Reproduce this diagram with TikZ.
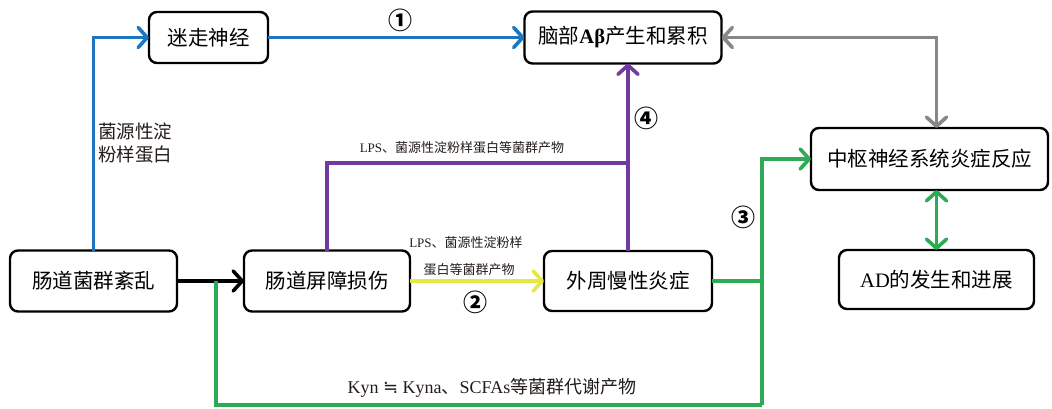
\documentclass[tikz,border=0pt]{standalone}
\usepackage{fontspec}
\setmainfont{Liberation Serif}
\newfontfamily\cjk{Noto Sans CJK SC}
\newfontfamily\symf{DejaVu Sans}
\usetikzlibrary{arrows.meta}
\definecolor{cblue}{RGB}{30,118,190}
\definecolor{cpurple}{RGB}{112,58,160}
\definecolor{cyellow}{RGB}{230,232,70}
\definecolor{cgreen}{RGB}{44,170,84}
\definecolor{cgray}{RGB}{135,135,135}
\definecolor{ctext}{RGB}{35,28,25}
\tikzset{
  box/.style={draw, line width=2.4pt, rounded corners=8pt, inner sep=0pt, outer sep=0pt, fill=white, font=\fontsize{20.5}{24}\selectfont},
  conn/.style={line width=3.6pt, line cap=butt},
  tip/.style={-{Straight Barb[length=9pt,width=20pt,round]}},
  tips/.style={{Straight Barb[length=9pt,width=20pt,round]}-{Straight Barb[length=9pt,width=20pt,round]}},
  lbl/.style={text=ctext, inner sep=0pt},
  num/.style={inner sep=0pt, font=\cjk\bfseries\fontsize{24}{25}\selectfont}
}
\begin{document}
\begin{tikzpicture}[x=1pt,y=-1pt]
\useasboundingbox (0,0) rectangle (1052,409);
% nodes
\node[box, minimum width=167pt, minimum height=61pt] (gut) at (93.5,281) {\cjk 肠道菌群紊乱};
\node[box, minimum width=166pt, minimum height=61pt] (bar) at (327,281) {\cjk 肠道屏障损伤};
\node[box, minimum width=168pt, minimum height=60pt] (per) at (628,281) {\cjk 外周慢性炎症};
\node[box, minimum width=119pt, minimum height=51pt] (vag) at (208.5,37.5) {\cjk 迷走神经};
\node[box, minimum width=197pt, minimum height=52pt] (brain) at (623,37.5) {{\cjk 脑部}\textbf{Aβ}{\cjk 产生和累积}};
\node[box, minimum width=237pt, minimum height=62pt] (cns) at (929.5,159) {\cjk 中枢神经系统炎症反应};
\node[box, minimum width=195pt, minimum height=59pt] (ad) at (936.5,279.5) {AD{\cjk 的发生和进展}};
% coordinates
\coordinate (gsplit) at (216,281);
\coordinate (gcorner) at (762,405);
\coordinate (pjoin) at (628,163);
% connectors
\draw[conn, cblue, tip] (gut.north) |- (vag.west);
\draw[conn, cblue, tip] (vag.east) -- (brain.west);
\draw[conn, black, tip] (gut.east) -- (bar.west);
\draw[conn, cyellow, tip] (bar.east) -- (per.west);
\draw[conn, cpurple] (bar.north) |- (pjoin);
\draw[conn, cpurple, tip] (per.north) -- (per.north |- brain.south);
\draw[conn, cgreen] (gsplit) |- (gcorner);
\draw[conn, cgreen] (per.east) -- (per.east -| gcorner);
\draw[conn, cgreen, tip] (gcorner) |- (cns.west);
\draw[conn, cgray, tips] (brain.east) -| (cns.north -| ad.north);
\draw[conn, cgreen, tips] (cns.south -| ad.north) -- (ad.north);
% labels
\node[num] (n1) at (400,20) {①};
\node[num] (n2) at (475,302) {②};
\node[num] (n3) at (743,217) {③};
\node[num] (n4) at (646,118) {④};
\node[lbl, anchor=west, align=left, font=\cjk\fontsize{18.5}{23}\selectfont] (l1) at (98,143) {菌源性淀\\粉样蛋白};
\node[lbl, font=\fontsize{13}{15}\selectfont] (l2) at (462,148) {LPS{\cjk 、菌源性淀粉样蛋白等菌群产物}};
\node[lbl, font=\fontsize{13}{15}\selectfont] (l3) at (466,243) {LPS{\cjk 、菌源性淀粉样}};
\node[lbl, font=\fontsize{13}{15}\selectfont] (l4) at (469,270) {\cjk 蛋白等菌群产物};
\node[lbl, font=\fontsize{18}{20}\selectfont] (l5) at (492,388) {Kyn {\symf ≒} Kyna{\cjk 、}SCFAs{\cjk 等菌群代谢产物}};
\end{tikzpicture}
\end{document}
